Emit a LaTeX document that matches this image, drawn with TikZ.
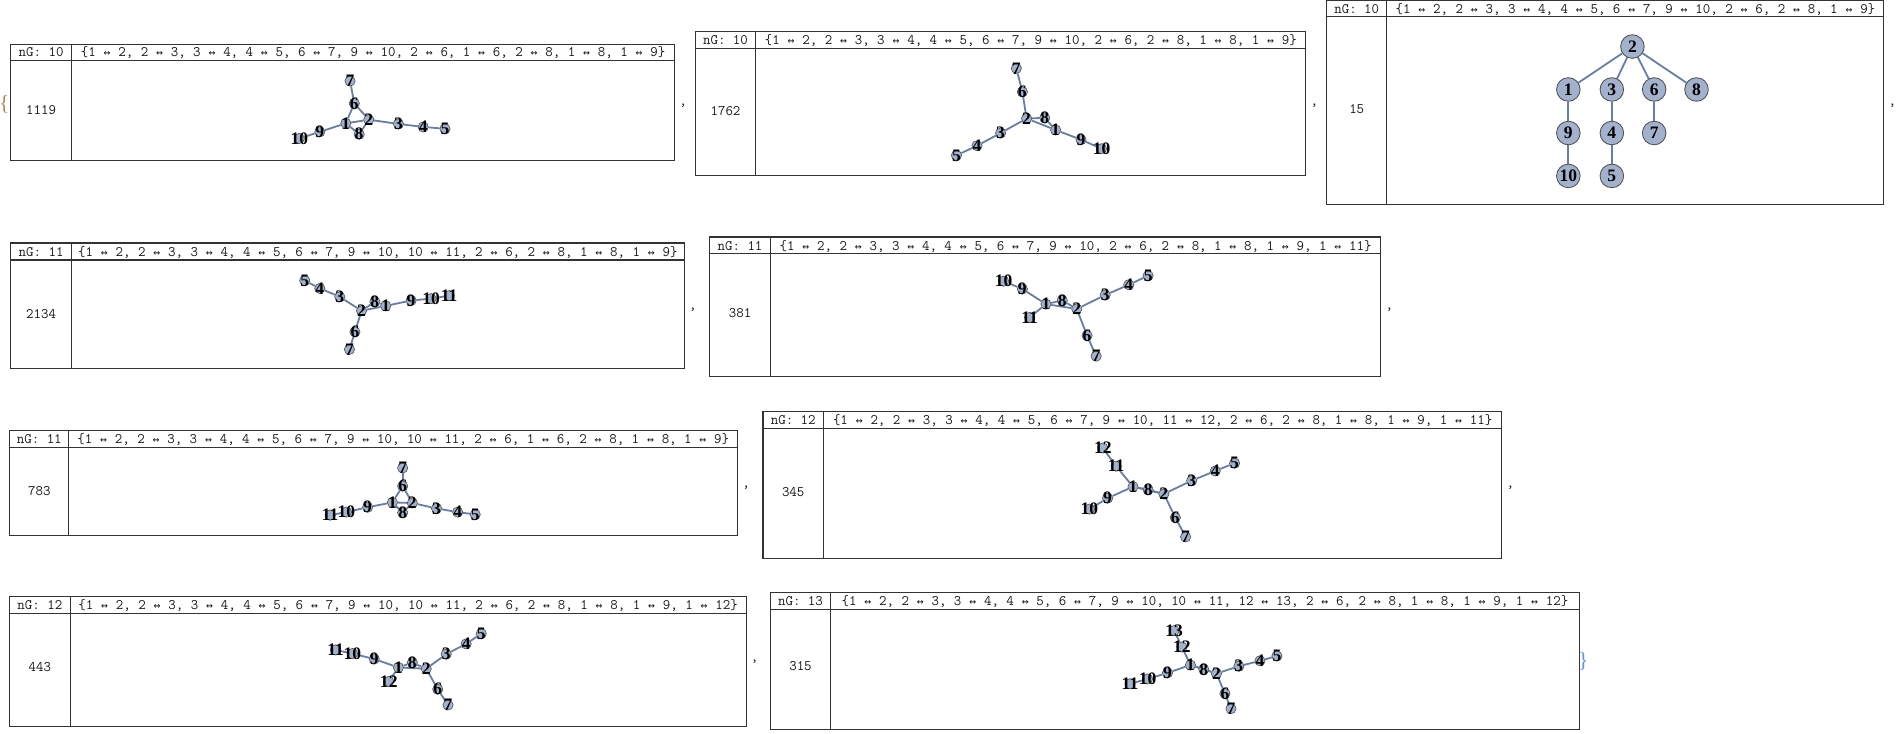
\documentclass[tikz,border=0pt]{standalone}
\usepackage{fontspec}
\usetikzlibrary{backgrounds}
\newfontfamily\serifn{Liberation Serif}
\newfontfamily\arrowf{DejaVu Sans Mono}
\definecolor{vfill}{RGB}{163,177,204}
\definecolor{vline}{RGB}{80,80,80}
\definecolor{ecol}{RGB}{106,126,162}
\definecolor{txt}{RGB}{25,25,25}
\definecolor{lbrace}{RGB}{175,140,95}
\definecolor{rbrace}{RGB}{105,150,215}
\newcommand\lra{\makebox[0.525em][c]{\arrowf\fontsize{9.5}{9.5}\selectfont ↔}}
\newcommand\edg[2]{#1 \lra{} #2}
\newcommand\cellf{\ttfamily\fontsize{12}{12}\selectfont}
\newcommand\lblf{\serifn\bfseries\fontsize{14.5}{14.5}\selectfont}
\newcommand\vx[3]{\node[vs] (#1) at (#2) {}; \node[lb] (#1t) at (#1) {#3};}
\newcommand\tbl[9]{%
  \draw[frame] (#2,#3) rectangle (#4,#5);
  \draw[frame] (#2,#6) -- (#4,#6);
  \draw[frame] (#7,#3) -- (#7,#5);
  \node[cell, anchor=base] (#1n) at ({(#2+#7)/2},{#6-3}) {nG: #8};
  \node[cell, anchor=base] (#1e) at ({(#7+#4)/2},{#6-3}) {#9};
}
\tikzset{
  frame/.style={draw=black!80, line width=0.9pt},
  cell/.style={font=\cellf, text=txt, inner sep=0pt},
  vs/.style={circle, fill=vfill, draw=vline, line width=0.5pt, minimum size=8.5pt, inner sep=0pt},
  vb/.style={circle, fill=vfill, draw=vline, line width=0.7pt, minimum size=19.5pt, inner sep=0pt, font=\lblf},
  lb/.style={font=\lblf, text=black, inner sep=0pt},
  ge/.style={draw=ecol, line width=1.5pt},
}
\begin{document}
\begin{tikzpicture}[x=1pt,y=-1pt]
\useasboundingbox (0,0) rectangle (1568,606.3);

% ---------- tables ----------
\tbl{t1}{9}{37}{558}{133}{50}{59}{10}{\{\edg12, \edg23, \edg34, \edg45, \edg67, \edg9{10}, \edg26, \edg16, \edg28, \edg18, \edg19\}}
\node[cell] (t1id) at (34,91) {1119};
\node[cell] (t1c) at (565,87) {,};
\node[font=\serifn\fontsize{18}{18}\selectfont, text=lbrace, inner sep=0pt] (lbr) at (3.5,86) {\{};

\tbl{t2}{575}{26}{1080}{145}{40}{625}{10}{\{\edg12, \edg23, \edg34, \edg45, \edg67, \edg9{10}, \edg26, \edg28, \edg18, \edg19\}}
\node[cell] (t2id) at (600,92) {1762};
\node[cell] (t2c) at (1087,87) {,};

\tbl{t3}{1097}{0.5}{1558}{169}{14}{1147}{10}{\{\edg12, \edg23, \edg34, \edg45, \edg67, \edg9{10}, \edg26, \edg28, \edg19\}}
\node[cell] (t3id) at (1122,90) {15};
\node[cell] (t3c) at (1565,87) {,};

\tbl{t4}{9}{201}{566}{305}{215}{59}{11}{\{\edg12, \edg23, \edg34, \edg45, \edg67, \edg9{10}, \edg{10}{11}, \edg26, \edg28, \edg18, \edg19\}}
\node[cell] (t4id) at (34,259.5) {2134};
\node[cell] (t4c) at (573,256) {,};

\tbl{t5}{587}{196}{1142}{311}{210}{637}{11}{\{\edg12, \edg23, \edg34, \edg45, \edg67, \edg9{10}, \edg26, \edg28, \edg18, \edg19, \edg1{11}\}}
\node[cell] (t5id) at (612,259) {381};
\node[cell] (t5c) at (1149,256) {,};

\tbl{t6}{8}{356}{610}{443}{370}{57}{11}{\{\edg12, \edg23, \edg34, \edg45, \edg67, \edg9{10}, \edg{10}{11}, \edg26, \edg16, \edg28, \edg18, \edg19\}}
\node[cell] (t6id) at (32.5,406.5) {783};
\node[cell] (t6c) at (617,403) {,};

\tbl{t7}{631}{340}{1242}{462}{354}{681}{12}{\{\edg12, \edg23, \edg34, \edg45, \edg67, \edg9{10}, \edg{11}{12}, \edg26, \edg28, \edg18, \edg19, \edg1{11}\}}
\node[cell] (t7id) at (656,407) {345};
\node[cell] (t7c) at (1249,403) {,};

\tbl{t8}{8}{493}{617}{601}{507}{58}{12}{\{\edg12, \edg23, \edg34, \edg45, \edg67, \edg9{10}, \edg{10}{11}, \edg26, \edg28, \edg18, \edg19, \edg1{12}\}}
\node[cell] (t8id) at (33,552) {443};
\node[cell] (t8c) at (624,547) {,};

\tbl{t9}{637}{490}{1306}{603}{504}{687}{13}{\{\edg12, \edg23, \edg34, \edg45, \edg67, \edg9{10}, \edg{10}{11}, \edg{12}{13}, \edg26, \edg28, \edg18, \edg19, \edg1{12}\}}
\node[cell] (t9id) at (662,551) {315};
\node[font=\serifn\fontsize{18}{18}\selectfont, text=rbrace, inner sep=0pt] (rbr) at (1309.5,547) {\}};

% ---------- graph 1 ----------
\vx{a7}{289.5,67}{7}
\vx{a6}{293,85.5}{6}
\vx{a1}{286,102}{1}
\vx{a2}{305,99}{2}
\vx{a8}{297,111}{8}
\vx{a3}{329.5,102.5}{3}
\vx{a4}{350,105}{4}
\vx{a5}{368,106.5}{5}
\vx{a9}{264.5,109}{9}
\vx{a10}{247.5,114.5}{10}

% ---------- graph 2 ----------
\vx{b7}{840.5,56.5}{7}
\vx{b6}{845.5,76}{6}
\vx{b2}{849,98}{2}
\vx{b8}{864,97.5}{8}
\vx{b1}{873,107.5}{1}
\vx{b9}{894,115.5}{9}
\vx{b10}{911,123}{10}
\vx{b3}{827.5,110}{3}
\vx{b4}{808,120.5}{4}
\vx{b5}{791,128.5}{5}

% ---------- graph 3 (tree) ----------
\node[vb] (c2) at (1350,38.5) {2};
\node[vb] (c1) at (1297,74) {1};
\node[vb] (c3) at (1333,74) {3};
\node[vb] (c6) at (1368,74) {6};
\node[vb] (c8) at (1403,74) {8};
\node[vb] (c9) at (1297,110) {9};
\node[vb] (c4) at (1333,110) {4};
\node[vb] (c7) at (1368,110) {7};
\node[vb] (c10) at (1297,145.5) {10};
\node[vb] (c5) at (1333,145.5) {5};

% ---------- graph 4 ----------
\vx{d5}{252,232}{5}
\vx{d4}{264.5,238.5}{4}
\vx{d3}{281,245.5}{3}
\vx{d2}{299,257}{2}
\vx{d8}{310,249.5}{8}
\vx{d1}{319,253}{1}
\vx{d9}{340,248.5}{9}
\vx{d10}{356.5,247}{10}
\vx{d11}{371.5,244.5}{11}
\vx{d6}{293.5,274.5}{6}
\vx{d7}{289,289}{7}

% ---------- graph 5 ----------
\vx{e10}{830,232.5}{10}
\vx{e9}{845.5,239}{9}
\vx{e1}{865,251.5}{1}
\vx{e8}{878.5,248.5}{8}
\vx{e2}{890.5,255.5}{2}
\vx{e11}{851.5,262.5}{11}
\vx{e3}{914,244}{3}
\vx{e4}{933.5,235.5}{4}
\vx{e5}{949.5,228}{5}
\vx{e6}{899,277.5}{6}
\vx{e7}{906.5,294.5}{7}

% ---------- graph 6 ----------
\vx{f7}{333,387}{7}
\vx{f6}{333,402}{6}
\vx{f1}{324.5,415.5}{1}
\vx{f2}{341,416}{2}
\vx{f8}{333,424}{8}
\vx{f9}{304,419.5}{9}
\vx{f10}{286.5,423.5}{10}
\vx{f11}{273,426}{11}
\vx{f3}{361,420.5}{3}
\vx{f4}{378.5,423.5}{4}
\vx{f5}{393,425.5}{5}

% ---------- graph 7 ----------
\vx{g12}{912,370.5}{12}
\vx{g11}{923,385.5}{11}
\vx{g1}{937,402.5}{1}
\vx{g8}{949.5,405}{8}
\vx{g2}{962.5,408.5}{2}
\vx{g9}{916,412}{9}
\vx{g10}{901,421}{10}
\vx{g3}{985.5,397.5}{3}
\vx{g4}{1005,389.5}{4}
\vx{g5}{1021,383}{5}
\vx{g6}{972,428}{6}
\vx{g7}{980.5,444}{7}

% ---------- graph 8 ----------
\vx{h11}{277.5,537.5}{11}
\vx{h10}{291.5,540.5}{10}
\vx{h9}{309.5,545}{9}
\vx{h1}{329.5,552}{1}
\vx{h8}{341,548}{8}
\vx{h2}{352.5,553}{2}
\vx{h12}{321.5,563.5}{12}
\vx{h3}{369,541}{3}
\vx{h4}{385.5,532.5}{4}
\vx{h5}{398,524}{5}
\vx{h6}{362,570}{6}
\vx{h7}{370.5,583}{7}

% ---------- graph 9 ----------
\vx{k13}{971,521.5}{13}
\vx{k12}{977.5,535}{12}
\vx{k1}{984.5,550}{1}
\vx{k8}{995.5,553.5}{8}
\vx{k2}{1006,557}{2}
\vx{k9}{965.5,556.5}{9}
\vx{k10}{949,561.5}{10}
\vx{k11}{934.5,565.5}{11}
\vx{k3}{1024.5,551}{3}
\vx{k4}{1042,546.5}{4}
\vx{k5}{1056,542.5}{5}
\vx{k6}{1013,573.5}{6}
\vx{k7}{1018,586}{7}

% ---------- edges (behind) ----------
\begin{pgfonlayer}{background}
\fill[white] (0,0) rectangle (1568,606.3);
\foreach \u/\v in {1/2,2/3,3/4,4/5,6/7,9/10,2/6,1/6,2/8,1/8,1/9}
  \draw[ge] (a\u) -- (a\v);
\foreach \u/\v in {1/2,2/3,3/4,4/5,6/7,9/10,2/6,2/8,1/8,1/9}
  \draw[ge] (b\u) -- (b\v);
\foreach \u/\v in {1/2,2/3,3/4,4/5,6/7,9/10,2/6,2/8,1/9}
  \draw[ge] (c\u) -- (c\v);
\foreach \u/\v in {1/2,2/3,3/4,4/5,6/7,9/10,10/11,2/6,2/8,1/8,1/9}
  \draw[ge] (d\u) -- (d\v);
\foreach \u/\v in {1/2,2/3,3/4,4/5,6/7,9/10,2/6,2/8,1/8,1/9,1/11}
  \draw[ge] (e\u) -- (e\v);
\foreach \u/\v in {1/2,2/3,3/4,4/5,6/7,9/10,10/11,2/6,1/6,2/8,1/8,1/9}
  \draw[ge] (f\u) -- (f\v);
\foreach \u/\v in {1/2,2/3,3/4,4/5,6/7,9/10,11/12,2/6,2/8,1/8,1/9,1/11}
  \draw[ge] (g\u) -- (g\v);
\foreach \u/\v in {1/2,2/3,3/4,4/5,6/7,9/10,10/11,2/6,2/8,1/8,1/9,1/12}
  \draw[ge] (h\u) -- (h\v);
\foreach \u/\v in {1/2,2/3,3/4,4/5,6/7,9/10,10/11,12/13,2/6,2/8,1/8,1/9,1/12}
  \draw[ge] (k\u) -- (k\v);
\end{pgfonlayer}
\end{tikzpicture}
\end{document}
